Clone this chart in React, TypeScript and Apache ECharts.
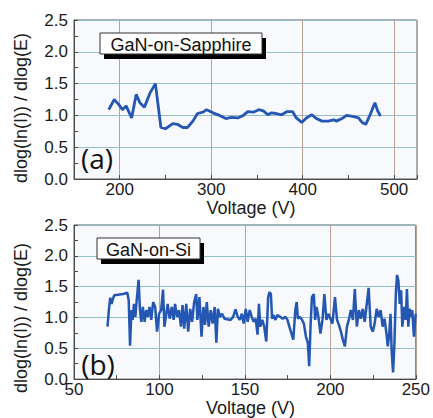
import React, { useEffect, useRef } from "react";
import * as echarts from "echarts";

// Panel (a): GaN-on-Sapphire
const topVoltage = [188, 194, 199, 203, 207, 213, 218, 222, 227, 233, 239, 245, 250, 258, 263, 269, 274, 280, 285, 291, 295, 302, 309, 316, 322, 329, 335, 340, 346, 352, 357, 362, 366, 371, 377, 383, 389, 393, 399, 404, 410, 415, 421, 428, 434, 437, 443, 448, 456, 461, 465, 469, 474, 479, 482, 485];
const topSlope = [1.09, 1.25, 1.17, 1.09, 1.15, 0.96, 1.33, 1.20, 1.13, 1.35, 1.50, 0.81, 0.79, 0.87, 0.86, 0.81, 0.81, 0.91, 1.03, 1.05, 1.09, 1.04, 1.00, 0.95, 0.97, 0.96, 1.00, 1.06, 1.05, 1.09, 1.07, 1.01, 1.04, 1.03, 1.01, 1.06, 1.06, 0.96, 0.89, 0.96, 1.01, 0.95, 0.91, 0.91, 0.93, 0.91, 0.95, 1.00, 0.98, 0.96, 0.89, 0.86, 1.02, 1.20, 1.07, 0.99];

// Panel (b): GaN-on-Si
const bottomVoltage = [69.6, 70.4, 71.2, 72, 72.8, 73.5, 75.8, 78.7, 81.2, 82,
  82.8, 83.6, 84.3, 85.1, 85.9, 86.7, 87.8, 88.6, 89.4, 90.3,
  91.3, 92.3, 93.2, 94.2, 95.2, 96.3, 97.5, 98.6, 99.8, 101,
  102.1, 102.9, 103.9, 104.8, 106, 107.2, 108.3, 109.1, 110.3, 111.4,
  112.6, 113.5, 114.5, 115.7, 116.8, 118, 119.1, 120.3, 121.5, 122.2,
  123.4, 124.6, 125.7, 126.7, 127.7, 128.8, 130, 131.1, 132.3, 133.3,
  134.2, 135.4, 136.6, 138.1, 139.7, 141.6, 143.1, 144.5, 145.8, 147,
  148.2, 149.3, 150.5, 151.6, 152.8, 154, 155.1, 156.3, 157.4, 158.2,
  159, 160.2, 161.3, 162.5, 163.6, 164.4, 165.2, 165.9, 166.7, 167.9,
  169, 170.6, 172.1, 173.7, 174.9, 176, 177.2, 178.3, 179.5, 180.3,
  181, 182.2, 183.4, 184.5, 185.7, 186.8, 187.6, 188.4, 189.2, 190.3,
  191.1, 191.9, 193, 194.2, 195.4, 196.5, 197.7, 198.8, 200, 201.2,
  202.7, 203.9, 205, 206.2, 207.3, 208.5, 209.7, 210.8, 212, 213.2,
  214.3, 215.5, 216.7, 217.8, 219, 220.1, 221.3, 222.4, 223.6, 224.8,
  225.9, 227.1, 228.2, 229.4, 230.6, 231.7, 232.9, 233.6, 234.4, 235.2,
  235.9, 236.7, 237.5, 238.3, 239, 239.8, 240.6, 241.4, 242.1, 243.3,
  244.1, 244.8, 245.6, 246.4, 247.2, 247.9, 248.9, 249.9];
const bottomSlope = [0.85, 1.12, 1.32, 1.22, 1.30, 1.36, 1.37, 1.38, 1.40, 1.28,
  0.54, 1.12, 0.96, 1.22, 1.01, 1.28, 1.61, 1.12, 0.93, 1.17,
  0.93, 1.12, 1.01, 1.17, 0.96, 1.25, 1.17, 0.77, 1.06, 1.12,
  1.45, 0.85, 1.04, 1.22, 0.98, 1.17, 0.96, 1.22, 1.01, 1.12,
  0.85, 1.20, 0.82, 1.22, 0.77, 1.14, 0.93, 1.25, 1.38, 0.96,
  1.33, 0.69, 1.17, 0.88, 1.25, 0.85, 1.12, 0.90, 1.17, 0.59,
  1.14, 1.01, 1.06, 0.98, 0.97, 0.96, 1.01, 1.13, 1.01, 0.96,
  1.06, 0.90, 1.14, 0.93, 1.12, 1.01, 0.93, 0.98, 0.72, 1.22,
  0.85, 0.96, 0.85, 0.61, 1.33, 1.41, 1.38, 0.98, 1.04, 0.96,
  1.04, 1.01, 0.98, 1.01, 0.96, 0.85, 0.74, 0.64, 1.12, 1.25,
  0.98, 1.01, 0.96, 0.90, 0.69, 0.59, 0.21, 0.85, 1.33, 1.38,
  0.96, 1.17, 1.01, 0.74, 0.96, 1.38, 0.96, 1.06, 0.98, 0.90,
  1.33, 0.96, 0.88, 0.77, 0.64, 0.53, 0.85, 0.96, 1.12, 0.96,
  1.46, 0.85, 1.12, 0.98, 1.14, 0.93, 1.22, 1.48, 0.85, 0.77,
  0.90, 1.14, 1.01, 1.12, 0.85, 0.98, 0.72, 0.53, 0.72, 1.06,
  0.43, 0.11, 0.59, 1.38, 1.69, 1.60, 1.22, 1.44, 0.85, 1.17,
  0.96, 1.46, 0.85, 1.14, 1.01, 1.12, 0.69, 1.06];

const panelLabels = ["(a)", "(b)"];
const legendLabels = ["GaN-on-Sapphire", "GaN-on-Si"];
const xAxisTitle = "Voltage (V)";
const yAxisTitle = "dlog(ln(I)) / dlog(E)";

const zip = (xs: number[], ys: number[]) =>
  xs.slice(0, Math.min(xs.length, ys.length)).map((x, i) => [x, ys[i]]);

const FONT = "Liberation Sans, Arial, sans-serif";
const LINE_COLOR = "#2456b3";
const H_GRID = "#93bfcc";
const V_GRID = "#b9a196";
const AXIS_COLOR = "#4a4a4a";

function yAxisCfg(gridIndex: number) {
  return {
    type: "value",
    gridIndex,
    min: 0,
    max: 2.5,
    interval: 0.5,
    axisLine: { show: true, lineStyle: { color: AXIS_COLOR, width: 1 } },
    axisTick: { show: true, inside: true, length: 4, lineStyle: { color: AXIS_COLOR } },
    minorTick: { show: true, splitNumber: 2, length: 4, lineStyle: { color: AXIS_COLOR } },
    axisLabel: {
      margin: 6,
      fontSize: 17,
      color: "#1a1a1a",
      fontFamily: FONT,
      formatter: (v: number) => v.toFixed(1),
    },
    splitLine: { show: true, lineStyle: { color: H_GRID, width: 1 } },
  };
}

function legendBox(x: number, y: number, w: number, h: number, text: string) {
  return [
    { type: "rect", z: 100, shape: { x: x + 4, y: y + 5, width: w, height: h }, style: { fill: "#000" } },
    { type: "rect", z: 101, shape: { x, y, width: w, height: h }, style: { fill: "#fdfdfd", stroke: "#333", lineWidth: 1 } },
    {
      type: "text", z: 102, x: x + w / 2, y: y + h / 2 + 1,
      style: { text, fontSize: 18, fontFamily: FONT, fill: "#111", align: "center", verticalAlign: "middle" },
    },
  ];
}

export default function App() {
  const ref = useRef<HTMLDivElement>(null);
  useEffect(() => {
    if (!ref.current) return;
    const chart = echarts.init(ref.current, null, { renderer: "svg" });
    chart.setOption({
      animation: false,
      backgroundColor: "#ffffff",
      grid: [
        { left: 74, top: 20, width: 343, height: 159, show: true, backgroundColor: "#f8f9fc", borderColor: "#5a5a5a", borderWidth: 1 },
        { left: 74, top: 225, width: 343, height: 157, show: true, backgroundColor: "#f8f9fc", borderColor: "#5a5a5a", borderWidth: 1 },
      ],
      xAxis: [
        {
          type: "value",
          gridIndex: 0,
          min: 150,
          max: 525,
          interval: 50,
          name: xAxisTitle,
          nameLocation: "middle",
          nameGap: 17,
          nameTextStyle: { fontSize: 18, color: "#1a1a1a", fontFamily: FONT, padding: [0, 0, 0, 11] },
          axisLine: { show: true, onZero: false, lineStyle: { color: AXIS_COLOR } },
          axisTick: { show: true, inside: true, length: 4, lineStyle: { color: AXIS_COLOR } },
          axisLabel: {
            margin: 2,
            fontSize: 17,
            color: "#1a1a1a",
            fontFamily: FONT,
            formatter: (v: number) => (v % 100 === 0 ? String(v) : ""),
          },
          splitLine: { show: true, lineStyle: { color: ["rgba(0,0,0,0)", V_GRID], width: 1 } },
        },
        {
          type: "value",
          gridIndex: 1,
          min: 50,
          max: 250,
          interval: 50,
          name: xAxisTitle,
          nameLocation: "middle",
          nameGap: 15,
          nameTextStyle: { fontSize: 18, color: "#1a1a1a", fontFamily: FONT, padding: [0, 0, 0, 11] },
          axisLine: { show: true, onZero: false, lineStyle: { color: AXIS_COLOR } },
          axisTick: { show: true, inside: true, length: 4, lineStyle: { color: AXIS_COLOR } },
          minorTick: { show: true, splitNumber: 2, length: 4, lineStyle: { color: AXIS_COLOR } },
          axisLabel: { margin: 2, fontSize: 17, color: "#1a1a1a", fontFamily: FONT },
          splitLine: { show: true, lineStyle: { color: V_GRID, width: 1 } },
        },
      ],
      yAxis: [yAxisCfg(0), yAxisCfg(1)],
      series: [
        {
          type: "line",
          xAxisIndex: 0,
          yAxisIndex: 0,
          data: zip(topVoltage, topSlope),
          showSymbol: false,
          lineStyle: { color: LINE_COLOR, width: 2.8 },
          z: 5,
        },
        {
          type: "line",
          xAxisIndex: 1,
          yAxisIndex: 1,
          data: zip(bottomVoltage, bottomSlope),
          showSymbol: false,
          lineStyle: { color: LINE_COLOR, width: 2.5 },
          z: 5,
        },
      ],
      graphic: [
        ...legendBox(100, 33, 162, 21, legendLabels[0]),
        ...legendBox(97, 238, 103, 21, legendLabels[1]),
        {
          type: "text", z: 100, x: 97, y: 158,
          style: { text: panelLabels[0], fontSize: 28, fontFamily: "Open Sans, sans-serif", fill: "#111", align: "center", verticalAlign: "middle" },
        },
        {
          type: "text", z: 100, x: 98, y: 364,
          style: { text: panelLabels[1], fontSize: 28, fontFamily: "Open Sans, sans-serif", fill: "#111", align: "center", verticalAlign: "middle" },
        },
        {
          type: "text", z: 100, x: 21, y: 108, rotation: Math.PI / 2,
          style: { text: yAxisTitle, fontSize: 18, fontFamily: FONT, fill: "#1a1a1a", align: "center", verticalAlign: "middle" },
        },
        {
          type: "text", z: 100, x: 21, y: 318, rotation: Math.PI / 2,
          style: { text: yAxisTitle, fontSize: 18, fontFamily: FONT, fill: "#1a1a1a", align: "center", verticalAlign: "middle" },
        },
      ],
    });
    return () => chart.dispose();
  }, []);
  return <div ref={ref} style={{ position: "fixed", left: 0, top: 0, width: 433, height: 418 }} />;
}
